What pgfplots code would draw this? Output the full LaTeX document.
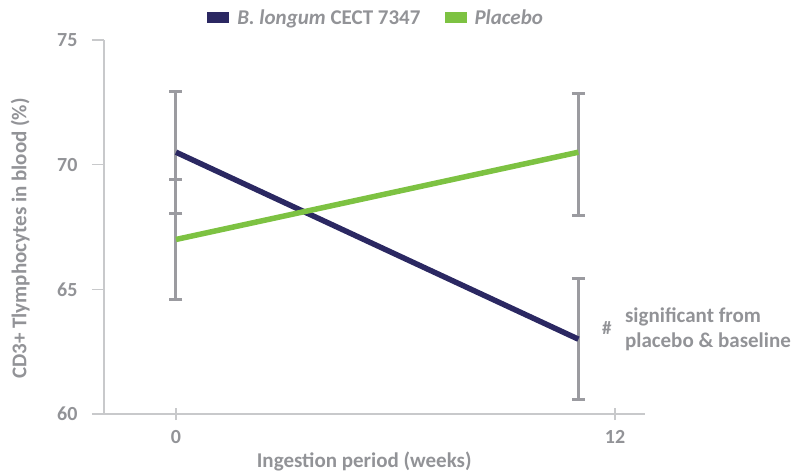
\documentclass[border=0pt]{standalone}
\usepackage{fontspec}
\setmainfont{Carlito}
\usepackage{pgfplots}
\pgfplotsset{compat=1.18}
\definecolor{navy}{HTML}{2B2862}
\definecolor{lgreen}{HTML}{7DC242}
\definecolor{txtgray}{HTML}{929397}
\definecolor{axgray}{HTML}{C8C9CB}
\definecolor{bargray}{HTML}{9B9BA0}
\begin{document}
\begin{tikzpicture}
\begin{axis}[
  scale only axis,
  width=541bp, height=374bp,
  xmin=-1.968, xmax=12.82,
  ymin=60, ymax=75,
  axis x line=bottom, axis y line=left,
  axis line style={axgray, line width=1.5bp, -},
  x axis line style={shorten <=-11bp},
  xtick={0,12}, ytick={60,65,70,75},
  xtick align=center, ytick align=outside,
  major tick length=12bp,
  tick style={axgray, line width=1.5bp},
  every tick label/.append style={font=\fontsize{20bp}{22bp}\selectfont\bfseries, text=txtgray},
  yticklabel style={xshift=-11bp},
  xticklabel style={yshift=-7bp},
  /pgf/number format/assume math mode=true,
  xlabel={Ingestion period (weeks)},
  ylabel={CD3+ Tlymphocytes in blood (\%)},
  label style={font=\fontsize{21bp}{24bp}\selectfont\bfseries, text=txtgray},
  xlabel style={at={(axis description cs:0.481,-0.128)}, anchor=center},
  ylabel style={at={(axis description cs:-0.155,0.469)}, anchor=center},
  clip=false,
  legend columns=2,
  legend style={draw=none, fill=none, at={(axis description cs:0.503,1.059)}, anchor=center,
    font=\fontsize{21bp}{24bp}\selectfont\bfseries, text=txtgray,
    /tikz/every odd column/.append style={column sep=6bp},
    /tikz/every even column/.append style={column sep=22bp}},
  legend image code/.code={\fill[#1, draw=none] (0bp,-5.5bp) rectangle (22bp,5.5bp);},
]
% error bars
\addplot[draw=none, forget plot, mark=none,
  error bars/.cd, y dir=both, y explicit,
  error bar style={bargray, line width=3bp},
  error mark options={bargray, line width=3bp, rotate=90, mark size=6.5bp}]
  coordinates {
  (0,70.5) +- (0,2.45)
  (11,63.0) +- (0,2.42)
};
\addplot[draw=none, forget plot, mark=none,
  error bars/.cd, y dir=both, y explicit,
  error bar style={bargray, line width=3bp},
  error mark options={bargray, line width=3bp, rotate=90, mark size=6.5bp}]
  coordinates {
  (0,67.0) +- (0,2.4)
  (11,70.4) +- (0,2.45)
};
\addplot[navy, line width=5.5bp, mark=none] coordinates {(0,70.5) (11,63.0)};
\addlegendentry{\textit{B. longum} CECT 7347}
\addplot[lgreen, line width=5.5bp, mark=none] coordinates {(0,67.0) (11,70.5)};
\addlegendentry{\textit{Placebo}}
\node[text=txtgray, font=\fontsize{19bp}{20bp}\selectfont\bfseries] at (axis cs:11.78,63.45) {\#};
\node[anchor=west, align=left, text=txtgray, font=\fontsize{21bp}{25bp}\selectfont\bfseries, inner sep=0pt] at (axis cs:12.27,63.4) {significant from\\placebo \& baseline};
\end{axis}
\pgfresetboundingbox
\path[use as bounding box] (-104bp,-62bp) rectangle (687bp,414bp);
\end{tikzpicture}
\end{document}
